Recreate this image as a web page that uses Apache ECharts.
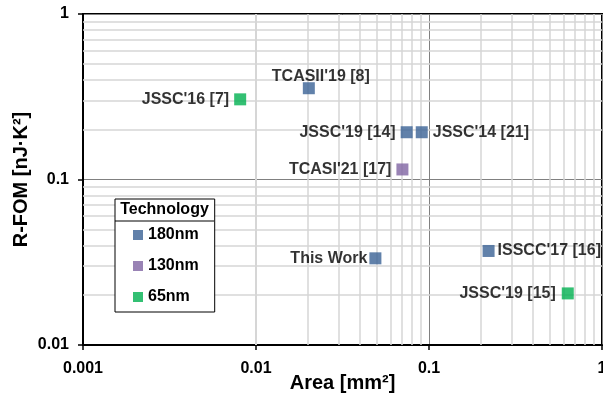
<!DOCTYPE html>
<html>
<head>
<meta charset="utf-8">
<script src="https://cdn.jsdelivr.net/npm/echarts@6/dist/echarts.min.js"></script>
<style>
  html, body { margin: 0; padding: 0; background: #fff; }
  #chart { width: 603px; height: 396px; }
</style>
</head>
<body>
<div id="chart"></div>
<script>
// works compared
const names = ['This Work', "TCASII'19 [8]", "JSSC'19 [14]", "JSSC'14 [21]", "ISSCC'17 [16]", "TCASI'21 [17]", "JSSC'16 [7]", "JSSC'19 [15]"]
const area = [0.049, 0.0202, 0.0743, 0.0908, 0.221, 0.0702, 0.0081, 0.634] // mm^2
const rfom = [0.0334, 0.356, 0.193, 0.193, 0.037, 0.115, 0.305, 0.0205] // nJ·K^2
const tech = ['180nm', '180nm', '180nm', '180nm', '180nm', '130nm', '65nm', '65nm']
const technologies = ['180nm', '130nm', '65nm']
// minor grid values (2..9 per decade)
const minorX = [0.002, 0.003, 0.004, 0.005, 0.006, 0.007, 0.008, 0.009,
  0.02, 0.03, 0.04, 0.05, 0.06, 0.07, 0.08, 0.09,
  0.2, 0.3, 0.4, 0.5, 0.6, 0.7, 0.8, 0.9]
const minorY = [0.02, 0.03, 0.04, 0.05, 0.06, 0.07, 0.08, 0.09,
  0.2, 0.3, 0.4, 0.5, 0.6, 0.7, 0.8, 0.9]

const techColor = { '180nm': '#3A6195', '130nm': '#8064A2', '65nm': '#00B050' }
// which side each point label sits on
const labelSide = {
  'This Work': { position: 'left', distance: 2 },
  "TCASII'19 [8]": { position: 'top', distance: 0, offset: [12, 2] },
  "JSSC'19 [14]": { position: 'left', distance: 5 },
  "JSSC'14 [21]": { position: 'right', distance: 5 },
  "ISSCC'17 [16]": { position: 'right', distance: 3 },
  "TCASI'21 [17]": { position: 'left', distance: 5 },
  "JSSC'16 [7]": { position: 'left', distance: 5 },
  "JSSC'19 [15]": { position: 'left', distance: 6 }
}

const font = 'Liberation Sans, Arial, sans-serif'
const chart = echarts.init(document.getElementById('chart'))

const seriesData = technologies.map(t => {
  const pts = []
  for (let i = 0; i < names.length; i++) {
    if (tech[i] !== t) continue
    pts.push({
      name: names[i],
      value: [area[i], rfom[i]],
      label: Object.assign({ show: true }, labelSide[names[i]])
    })
  }
  return {
    name: t,
    type: 'scatter',
    symbol: 'rect',
    symbolSize: 12,
    z: 6,
    itemStyle: { color: techColor[t] },
    label: {
      formatter: '{b}',
      color: '#000',
      fontFamily: font,
      fontWeight: 'bold',
      fontSize: 16
    },
    data: pts
  }
})

// minor grid lines drawn through the axes
seriesData.push({
  name: 'minor',
  type: 'scatter',
  data: [],
  z: 1,
  silent: true,
  markLine: {
    z: 1,
    silent: true,
    symbol: 'none',
    animation: false,
    label: { show: false },
    emphasis: { disabled: true },
    lineStyle: { color: '#d6d6d6', width: 1.5, type: 'solid' },
    data: minorX.map(v => ({ xAxis: v })).concat(minorY.map(v => ({ yAxis: v })))
  }
})

const option = {
  animation: false,
  grid: {
    left: 83,
    right: 1,
    top: 14,
    bottom: 51,
    outerBoundsMode: 'none',
    containLabel: false,
    show: true,
    borderColor: '#000',
    borderWidth: 2
  },
  legend: {
    data: technologies,
    orient: 'vertical',
    left: 115,
    top: 199,
    z: 20,
    icon: 'rect',
    itemWidth: 10,
    itemHeight: 10,
    itemGap: 15,
    padding: [28, 16, 7, 18],
    backgroundColor: '#fff',
    borderColor: '#000',
    borderWidth: 1,
    textStyle: {
      color: '#000',
      fontFamily: font,
      fontWeight: 'bold',
      fontSize: 16,
      lineHeight: 16
    }
  },
  graphic: [
    {
      type: 'line',
      z: 100,
      shape: { x1: 115, y1: 221, x2: 214, y2: 221 },
      style: { stroke: '#000', lineWidth: 1 }
    },
    {
      type: 'text',
      z: 100,
      x: 164.5,
      y: 210,
      style: {
        text: 'Technology',
        fill: '#000',
        font: 'bold 16px ' + font,
        align: 'center',
        verticalAlign: 'middle'
      }
    }
  ],
  xAxis: {
    type: 'log',
    logBase: 10,
    min: 0.001,
    max: 1,
    name: 'Area [mm²]',
    nameLocation: 'middle',
    nameGap: 28,
    nameMoveOverlap: false,
    nameTextStyle: { color: '#000', fontFamily: font, fontWeight: 'bold', fontSize: 20 },
    axisLine: { lineStyle: { color: '#000', width: 2 } },
    axisTick: { show: true, length: 5, lineStyle: { color: '#000', width: 1.5 } },
    axisLabel: { color: '#000', fontFamily: font, fontWeight: 'bold', fontSize: 16, margin: 16, hideOverlap: false },
    splitLine: { show: true, lineStyle: { color: '#808080', width: 1 } }
  },
  yAxis: {
    type: 'log',
    logBase: 10,
    min: 0.01,
    max: 1,
    name: 'R-FOM [nJ·K²]',
    nameLocation: 'middle',
    nameGap: 52,
    nameMoveOverlap: false,
    nameTextStyle: { color: '#000', fontFamily: font, fontWeight: 'bold', fontSize: 20 },
    axisLine: { lineStyle: { color: '#000', width: 2 } },
    axisTick: { show: true, length: 5, lineStyle: { color: '#000', width: 1.5 } },
    axisLabel: { color: '#000', fontFamily: font, fontWeight: 'bold', fontSize: 16, margin: 14 },
    splitLine: { show: true, lineStyle: { color: '#808080', width: 1 } }
  },
  series: seriesData
}

chart.setOption(option)
</script>
</body>
</html>
